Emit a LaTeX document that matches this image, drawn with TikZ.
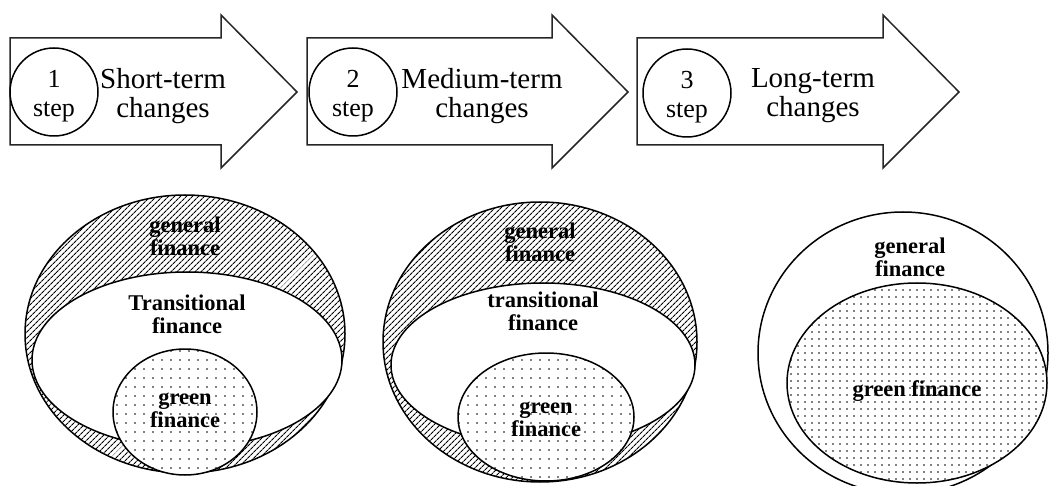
\documentclass[tikz,border=0pt]{standalone}
\usepackage{fontspec}
\setmainfont{Liberation Serif}
\usetikzlibrary{patterns.meta}

\tikzset{
  stepcirc/.style={circle, draw, line width=1.5pt, minimum size=88, inner sep=0pt,
    align=center, font=\fontsize{26}{29}\selectfont},
  stagetext/.style={align=center, font=\fontsize{29}{29}\selectfont},
  setlabel/.style={align=center, font=\fontsize{22.5}{23}\selectfont\bfseries},
  hatched/.style={pattern={Lines[angle=45,distance=4pt,line width=1.1pt]}},
  whitearea/.style={fill=white},
  greendots/.style={preaction={fill=white}, pattern={Dots[distance=#1,radius=0.85pt]}},
  greendots/.default=9pt
}

\begin{document}
\begin{tikzpicture}[x=1pt, y=-1pt, line width=1.5pt]
  \useasboundingbox (0,0) rectangle (1049,486);

  % the three stage arrows
  \foreach \l/\h/\t in {10/221/297, 307/552/628, 637/883/959}
    \draw[black!85] (\l,38) -- (\h,38) -- (\h,15) -- (\t,92) -- (\h,168) -- (\h,145) -- (\l,145) -- cycle;

  \node[stepcirc] (step1) at (54,92) {};
  \node[stepcirc] (step2) at (353,92) {};
  \node[stepcirc] (step3) at (687,93) {};
  \node[align=center, font=\fontsize{26}{29}\selectfont] (num1) at (54,96) {1\\step};
  \node[align=center, font=\fontsize{26}{29}\selectfont] (num2) at (353,96) {2\\step};
  \node[align=center, font=\fontsize{26}{29}\selectfont] (num3) at (687,97) {3\\step};

  \node[stagetext] (stage1) at (163,96) {Short-term\\changes};
  \node[stagetext] (stage2) at (482,96) {Medium-term\\changes};
  \node[stagetext] (stage3) at (813,96) {Long-term\\changes};

  % short-term picture
  \draw[hatched] (185,334) ellipse [x radius=160, y radius=139];
  \draw[whitearea] (187,360) ellipse [x radius=155, y radius=88];
  \draw[greendots] (185,412) ellipse [x radius=72, y radius=63];
  \node[setlabel] (gen1) at (185,236) {general\\finance};
  \node[setlabel] (trans1) at (187,314) {Transitional\\finance};
  \node[setlabel] (green1) at (185,410) {green\\finance};

  % medium-term picture
  \draw[hatched] (540,342) ellipse [x radius=157, y radius=140];
  \draw[whitearea] (543,365) ellipse [x radius=152, y radius=82];
  \draw[greendots] (546,417) ellipse [x radius=88, y radius=64];
  \node[setlabel] (gen2) at (540,242) {general\\finance};
  \node[setlabel] (trans2) at (543,311) {transitional\\finance};
  \node[setlabel] (green2) at (546,419) {green\\finance};

  % long-term picture
  \draw (903,353) ellipse [x radius=145, y radius=141];
  \draw[greendots=7pt] (917,383) ellipse [x radius=130, y radius=100];
  \node[setlabel] (gen3) at (910,257) {general\\finance};
  \node[setlabel] (green3) at (917,391) {green finance};
\end{tikzpicture}
\end{document}
